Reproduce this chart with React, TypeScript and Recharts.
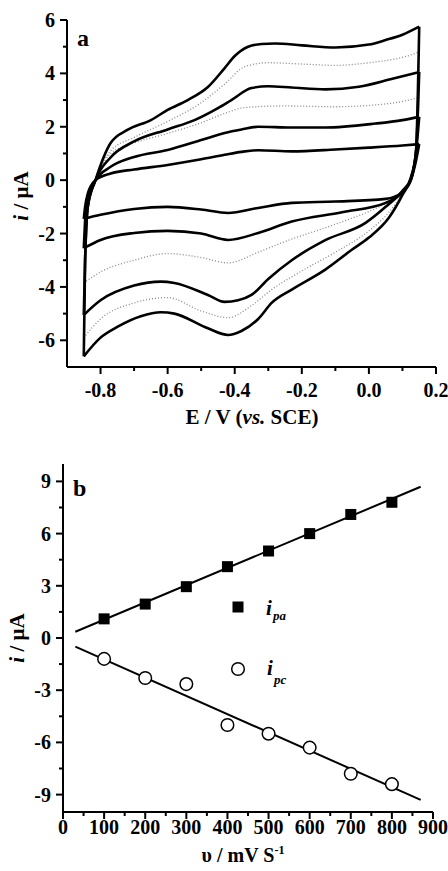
import React from "react";
import { LineChart, Line, XAxis, YAxis, ComposedChart, Scatter } from "recharts";

// panel a: cyclic voltammograms, [E (V vs SCE), i (uA)]
const cv1Anodic = [[-0.85, -1.45], [-0.846, -1.0], [-0.838, -0.5], [-0.815, 0.0], [-0.77, 0.25], [-0.7, 0.4], [-0.6, 0.57], [-0.5, 0.78], [-0.43, 0.95], [-0.38, 1.06], [-0.33, 1.12], [-0.23, 1.08], [-0.1, 1.15], [0.0, 1.22], [0.1, 1.3], [0.15, 1.35]];
const cv1Cathodic = [[-0.85, -1.45], [-0.8, -1.3], [-0.7, -1.08], [-0.6, -1.0], [-0.5, -1.1], [-0.42, -1.23], [-0.33, -1.04], [-0.23, -0.85], [-0.1, -0.8], [0.05, -0.7], [0.1, -0.45], [0.125, 0.0], [0.14, 0.7], [0.15, 1.35]];
const cv2Anodic = [[-0.85, -2.55], [-0.846, -1.5], [-0.838, -0.6], [-0.815, 0.0], [-0.77, 0.5], [-0.7, 0.87], [-0.6, 1.13], [-0.5, 1.5], [-0.43, 1.77], [-0.38, 1.9], [-0.33, 2.0], [-0.23, 1.97], [-0.13, 1.97], [0.02, 2.12], [0.1, 2.25], [0.15, 2.37]];
const cv2Cathodic = [[-0.85, -2.55], [-0.8, -2.24], [-0.7, -1.98], [-0.6, -1.9], [-0.5, -2.0], [-0.42, -2.24], [-0.33, -1.98], [-0.23, -1.55], [-0.08, -1.2], [0.05, -0.85], [0.1, -0.45], [0.125, 0.0], [0.14, 1.0], [0.15, 2.37]];
const cv3Anodic = [[-0.85, -3.85], [-0.846, -2.0], [-0.838, -0.8], [-0.815, 0.0], [-0.77, 1.0], [-0.72, 1.3], [-0.6, 1.75], [-0.5, 2.15], [-0.43, 2.5], [-0.37, 2.72], [-0.25, 2.78], [-0.1, 2.75], [0.0, 2.8], [0.1, 2.95], [0.15, 3.1]];
const cv3Cathodic = [[-0.85, -3.85], [-0.8, -3.44], [-0.7, -3.0], [-0.6, -2.75], [-0.5, -2.9], [-0.42, -3.1], [-0.33, -2.7], [-0.25, -2.3], [-0.1, -1.65], [0.03, -1.0], [0.1, -0.5], [0.125, 0.0], [0.14, 1.0], [0.15, 3.1]];
const cv4Anodic = [[-0.85, -5.05], [-0.846, -3.0], [-0.838, -1.0], [-0.815, 0.0], [-0.77, 0.85], [-0.7, 1.45], [-0.6, 1.9], [-0.52, 2.25], [-0.45, 2.7], [-0.41, 3.0], [-0.35, 3.45], [-0.3, 3.52], [-0.23, 3.47], [-0.13, 3.4], [-0.03, 3.5], [0.07, 3.8], [0.15, 4.05]];
const cv4Cathodic = [[-0.85, -5.05], [-0.8, -4.5], [-0.7, -3.95], [-0.62, -3.8], [-0.58, -3.85], [-0.48, -4.3], [-0.43, -4.56], [-0.39, -4.5], [-0.35, -4.3], [-0.3, -3.7], [-0.23, -3.0], [-0.13, -2.25], [-0.01, -1.6], [0.05, -1.0], [0.1, -0.4], [0.125, 0.05], [0.14, 1.0], [0.15, 4.05]];
const cv5Anodic = [[-0.85, -5.9], [-0.846, -3.0], [-0.838, -1.0], [-0.815, 0.0], [-0.77, 1.1], [-0.7, 1.6], [-0.6, 2.2], [-0.5, 2.9], [-0.43, 3.6], [-0.37, 4.25], [-0.3, 4.4], [-0.2, 4.35], [-0.1, 4.3], [0.0, 4.4], [0.1, 4.6], [0.15, 4.8]];
const cv5Cathodic = [[-0.85, -5.9], [-0.8, -5.2], [-0.7, -4.6], [-0.6, -4.4], [-0.5, -4.9], [-0.42, -5.15], [-0.35, -4.7], [-0.29, -4.1], [-0.2, -3.4], [-0.1, -2.7], [0.0, -1.9], [0.06, -1.2], [0.1, -0.5], [0.125, 0.05], [0.14, 1.0], [0.15, 4.8]];
const cv6Anodic = [[-0.85, -6.6], [-0.846, -3.0], [-0.838, -1.0], [-0.815, 0.0], [-0.77, 1.39], [-0.72, 1.88], [-0.65, 2.25], [-0.6, 2.63], [-0.54, 3.0], [-0.48, 3.49], [-0.43, 4.2], [-0.4, 4.65], [-0.36, 5.0], [-0.32, 5.1], [-0.28, 5.12], [-0.2, 5.05], [-0.1, 4.97], [0.0, 5.08], [0.05, 5.25], [0.1, 5.45], [0.15, 5.75]];
const cv6Cathodic = [[-0.85, -6.6], [-0.8, -5.9], [-0.75, -5.5], [-0.68, -5.1], [-0.62, -4.95], [-0.58, -5.0], [-0.48, -5.55], [-0.42, -5.8], [-0.38, -5.65], [-0.33, -5.2], [-0.29, -4.6], [-0.23, -4.1], [-0.13, -3.35], [-0.05, -2.6], [0.0, -2.15], [0.06, -1.4], [0.1, -0.55], [0.125, 0.1], [0.14, 1.0], [0.15, 5.75]];

const solidBranches = [cv1Anodic, cv1Cathodic, cv2Anodic, cv2Cathodic, cv4Anodic, cv4Cathodic, cv6Anodic, cv6Cathodic];
const dottedBranches = [cv3Anodic, cv3Cathodic, cv5Anodic, cv5Cathodic];

const xTicksA = [-0.8, -0.7, -0.6, -0.5, -0.4, -0.3, -0.2, -0.1, 0.0, 0.1, 0.2];
const xMajorA = [-0.8, -0.6, -0.4, -0.2, 0.0, 0.2];
const yTicksA = [-6, -5, -4, -3, -2, -1, 0, 1, 2, 3, 4, 5, 6];
const yMajorA = [-6, -4, -2, 0, 2, 4, 6];

// panel b: peak currents vs scan rate
const scanRates = [100, 200, 300, 400, 500, 600, 700, 800];
const ipa = [1.1, 1.95, 2.95, 4.1, 5.0, 6.0, 7.1, 7.8];
const ipc = [-1.2, -2.3, -2.65, -5.0, -5.5, -6.3, -7.8, -8.4];
const fitRates = [30, 870];
const ipaFit = [0.36, 8.69];
const ipcFit = [-0.5, -9.3];

const xTicksB = [0, 50, 100, 150, 200, 250, 300, 350, 400, 450, 500, 550, 600, 650, 700, 750, 800, 850, 900];
const xMajorB = [0, 100, 200, 300, 400, 500, 600, 700, 800, 900];
const yTicksB = [-9, -7.5, -6, -4.5, -3, -1.5, 0, 1.5, 3, 4.5, 6, 7.5, 9];
const yMajorB = [-9, -6, -3, 0, 3, 6, 9];

const toPts = (arr: number[][]) => arr.map(([E, i]) => ({ E, i }));
const pairs = (xs: number[], ys: number[]) => xs.map((x, k) => ({ x, i: ys[k] }));

const font = { fontFamily: "'Liberation Serif', 'Times New Roman', serif", fontWeight: 700 as const };

const isMajor = (majors: number[], v: number) => majors.some((m) => Math.abs(m - v) < 1e-6);

const bottomTick = (majors: number[], fmt: (v: number) => string, dy: number) => (p: any) => {
  const { x, y, payload } = p;
  const major = isMajor(majors, payload.value);
  return (
    <g>
      <line x1={x} y1={y} x2={x} y2={y + (major ? 7 : 4)} stroke="#000" strokeWidth={2} />
      {major && (
        <text x={x} y={y + dy} textAnchor="middle" fontSize={20} fill="#000" style={font}>
          {fmt(payload.value)}
        </text>
      )}
    </g>
  );
};

const leftTick = (majors: number[], fmt: (v: number) => string) => (p: any) => {
  const { x, y, payload } = p;
  const major = isMajor(majors, payload.value);
  return (
    <g>
      <line x1={x} y1={y} x2={x - (major ? 7 : 4)} y2={y} stroke="#000" strokeWidth={2} />
      {major && (
        <text x={x - 12} y={y + 7} textAnchor="end" fontSize={20} fill="#000" style={font}>
          {fmt(payload.value)}
        </text>
      )}
    </g>
  );
};

const frame = { stroke: "#000", strokeWidth: 2 };

function PanelA() {
  return (
    <LineChart width={448} height={440} margin={{ top: 20, right: 12, bottom: 0, left: 0 }}>
      <XAxis dataKey="E" type="number" domain={[-0.9, 0.2]} ticks={xTicksA} interval={0}
        tickSize={0} tickMargin={0} axisLine={frame} tick={bottomTick(xMajorA, (v) => v.toFixed(1), 30)} height={73} />
      <XAxis xAxisId="top" orientation="top" type="number" domain={[-0.9, 0.2]} tick={false} tickLine={false} axisLine={frame} height={0} />
      <YAxis dataKey="i" type="number" domain={[-7, 6]} ticks={yTicksA} interval={0}
        tickSize={0} tickMargin={0} axisLine={frame} tick={leftTick(yMajorA, (v) => String(v))} width={67} />
      <YAxis yAxisId="right" orientation="right" type="number" domain={[-7, 6]} tick={false} tickLine={false} axisLine={frame} width={0} />
      {dottedBranches.map((b, k) => (
        <Line key={`d${k}`} data={toPts(b)} dataKey="i" type="monotone" stroke="#888" strokeWidth={1.3}
          strokeDasharray="1 2" dot={false} activeDot={false} isAnimationActive={false} />
      ))}
      {solidBranches.map((b, k) => (
        <Line key={`s${k}`} data={toPts(b)} dataKey="i" type="monotone" stroke="#000" strokeWidth={2.6}
          dot={false} activeDot={false} isAnimationActive={false} />
      ))}
    </LineChart>
  );
}

function PanelB() {
  return (
    <ComposedChart width={448} height={431} margin={{ top: 24, right: 15, bottom: 0, left: 0 }}>
      <XAxis dataKey="x" type="number" domain={[0, 900]} ticks={xTicksB} interval={0}
        tickSize={0} tickMargin={0} axisLine={frame} tick={bottomTick(xMajorB, (v) => String(v), 22)} height={59} />
      <XAxis xAxisId="top" orientation="top" type="number" domain={[0, 900]} tick={false} tickLine={false} axisLine={frame} height={0} />
      <YAxis dataKey="i" type="number" domain={[-10, 10]} ticks={yTicksB} interval={0}
        tickSize={0} tickMargin={0} axisLine={frame} tick={leftTick(yMajorB, (v) => String(v))} width={63} />
      <YAxis yAxisId="right" orientation="right" type="number" domain={[-10, 10]} tick={false} tickLine={false} axisLine={frame} width={0} />
      <Line data={pairs(fitRates, ipaFit)} dataKey="i" type="linear" stroke="#000" strokeWidth={2}
        dot={false} activeDot={false} isAnimationActive={false} />
      <Line data={pairs(fitRates, ipcFit)} dataKey="i" type="linear" stroke="#000" strokeWidth={2}
        dot={false} activeDot={false} isAnimationActive={false} />
      <Scatter data={pairs(scanRates, ipa)} dataKey="i" isAnimationActive={false}
        shape={(p: any) => <rect x={p.cx - 5.5} y={p.cy - 5.5} width={11} height={11} fill="#000" />} />
      <Scatter data={pairs(scanRates, ipc)} dataKey="i" isAnimationActive={false}
        shape={(p: any) => <circle cx={p.cx} cy={p.cy} r={6.3} fill="#fff" stroke="#000" strokeWidth={1.5} />} />
    </ComposedChart>
  );
}

export default function App() {
  return (
    <div style={{ position: "absolute", left: 0, top: 0, width: 448, height: 871, background: "#fff" }}>
      <div style={{ position: "absolute", left: 0, top: 0 }}>
        <PanelA />
      </div>
      <div style={{ position: "absolute", left: 0, top: 440 }}>
        <PanelB />
      </div>
      <svg width={448} height={871} style={{ position: "absolute", left: 0, top: 0, pointerEvents: "none" }}>
        <g style={font} fill="#000">
          <text x={77} y={46} fontSize={24}>a</text>
          <text x={252} y={424} fontSize={21} textAnchor="middle">
            E / V (<tspan fontStyle="italic">vs.</tspan> SCE)
          </text>
          <text transform="translate(28,196) rotate(-90)" fontSize={21} textAnchor="middle">
            <tspan fontStyle="italic">i</tspan> / μA
          </text>

          <text x={73} y={496} fontSize={24}>b</text>
          <text x={243} y={862} fontSize={20} textAnchor="middle">
            υ / mV S<tspan fontSize={12} dy={-8}>-1</tspan>
          </text>
          <text transform="translate(24,638) rotate(-90)" fontSize={21} textAnchor="middle">
            <tspan fontStyle="italic">i</tspan> / μA
          </text>

          <rect x={232.5} y={601.5} width={11} height={11} fill="#000" />
          <text x={266} y={615} fontSize={21} fontStyle="italic">i</text>
          <text x={273} y={620} fontSize={13} fontStyle="italic">pa</text>
          <circle cx={238} cy={669} r={6.3} fill="#fff" stroke="#000" strokeWidth={1.5} />
          <text x={267} y={675} fontSize={21} fontStyle="italic">i</text>
          <text x={274} y={684} fontSize={13} fontStyle="italic">pc</text>
        </g>
      </svg>
    </div>
  );
}
